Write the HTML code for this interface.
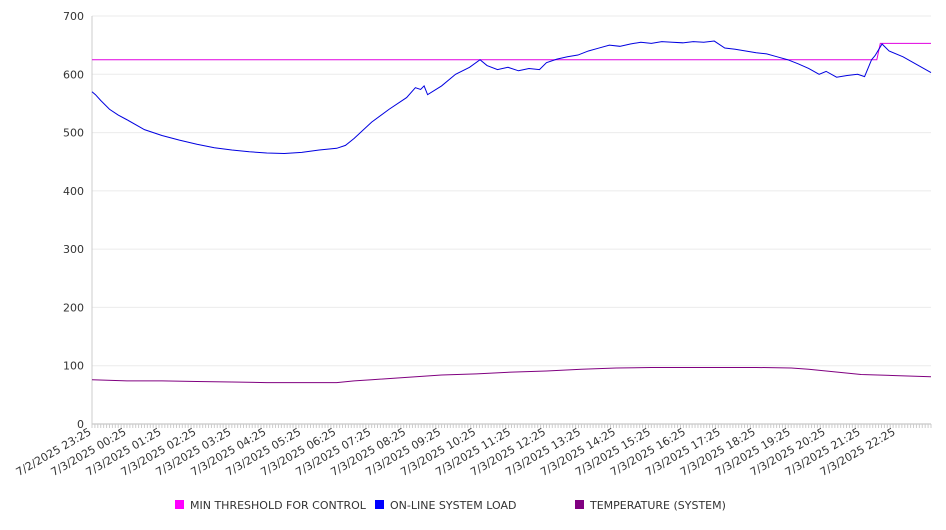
<!DOCTYPE html>
<html><head><meta charset="utf-8"><style>
body{margin:0;background:#fff;font-family:"DejaVu Sans","Liberation Sans",sans-serif}
svg text{font-family:"DejaVu Sans","Liberation Sans",sans-serif;font-size:11px;fill:#333}
</style></head><body>
<svg id="chart" width="946" height="526" xmlns="http://www.w3.org/2000/svg">
<g id="grid"></g>
<g id="yaxis"></g>
<g id="xaxis"></g>
<g id="series"></g>
<g id="legend"></g>
</svg>
<script>
const xLabels=["7/2/2025 23:25","7/3/2025 00:25","7/3/2025 01:25","7/3/2025 02:25","7/3/2025 03:25","7/3/2025 04:25","7/3/2025 05:25","7/3/2025 06:25","7/3/2025 07:25","7/3/2025 08:25","7/3/2025 09:25","7/3/2025 10:25","7/3/2025 11:25","7/3/2025 12:25","7/3/2025 13:25","7/3/2025 14:25","7/3/2025 15:25","7/3/2025 16:25","7/3/2025 17:25","7/3/2025 18:25","7/3/2025 19:25","7/3/2025 20:25","7/3/2025 21:25","7/3/2025 22:25"];
const yTicks=[0,100,200,300,400,500,600,700];
const loadHours=[0,0.1,0.25,0.5,0.75,1,1.5,2,2.5,3,3.5,4,4.5,5,5.5,6,6.5,7,7.25,7.5,8,8.5,9,9.25,9.4,9.5,9.6,10,10.4,10.8,11.1,11.3,11.6,11.9,12.2,12.5,12.8,13,13.3,13.6,13.9,14.2,14.5,14.8,15.1,15.4,15.7,16,16.3,16.6,16.9,17.2,17.5,17.8,18.1,18.4,18.7,19,19.3,19.6,19.9,20.2,20.5,20.8,21,21.3,21.6,21.9,22.1,22.3,22.4,22.6,22.8,23.2,24];
const loadValues=[570,565,555,540,530,522,505,495,487,480,474,470,467,465,464,466,470,473,478,490,518,540,560,577,574,580,565,580,600,612,625,615,608,612,606,610,608,620,626,630,633,640,645,650,648,652,655,653,656,655,654,656,655,657,645,643,640,637,635,630,625,618,610,600,605,595,598,600,596,625,632,652,640,630,603];
const threshHours=[0,22.45,22.55,24];
const threshValues=[625,625,653,653];
const tempHours=[0,1,2,3,4,5,6,7,7.5,8,9,10,11,12,13,14,15,16,17,18,19,20,20.5,21,21.5,22,23,24];
const tempValues=[76,74,74,73,72,71,71,71,74,76,80,84,86,89,91,94,96,97,97,97,97,96,94,91,88,85,83,81];
const X0=92,X1=931,Y0=424,Y1=16;
const xs=h=>X0+(X1-X0)*h/24, ys=v=>Y0-(Y0-Y1)*v/700;
const NS="http://www.w3.org/2000/svg";
function mk(t,a,p){const e=document.createElementNS(NS,t);for(const k in a)e.setAttribute(k,a[k]);p.appendChild(e);return e;}
const grid=document.getElementById('grid'),ya=document.getElementById('yaxis'),xa=document.getElementById('xaxis'),se=document.getElementById('series'),lg=document.getElementById('legend');
yTicks.forEach(v=>{
 const l=mk('line',{x1:X0,x2:X1,y1:ys(v),y2:ys(v),stroke:v===0?'#bbb':'#ebebeb','stroke-width':1},grid);
 
 
 const t=mk('text',{x:84,y:ys(v)+4,'text-anchor':'end'},ya);t.textContent=v;
 
 
});
mk('line',{x1:X0,x2:X0,y1:Y1,y2:Y0,stroke:'#ccc'},ya);
for(let i=0;i<=24*12;i++){const x=xs(i/12);mk('line',{x1:x,x2:x,y1:Y0,y2:Y0+4,stroke:'#ccc'},xa);}
xLabels.forEach((s,i)=>{
 const x=xs(i);
 const t=mk('text',{x:x,y:Y0+10,'text-anchor':'end',transform:`rotate(-30 ${x} ${Y0+10})`},xa);t.textContent=s;
 
 
});
function line(hs,vs,col,name){
 const p=mk('polyline',{points:hs.map((h,i)=>xs(h)+','+ys(vs[i])).join(' '),fill:'none',stroke:col,'stroke-width':1},se);
 
 
}
line(tempHours,tempValues,'#800080','temperature-line');
line(threshHours,threshValues,'#e000e0','min-threshold-line');
line(loadHours,loadValues,'#0000e0','system-load-line');
[['MIN THRESHOLD FOR CONTROL','#ff00ff',175],['ON-LINE SYSTEM LOAD','#0000ff',375],['TEMPERATURE (SYSTEM)','#800080',575]].forEach(([n,c,x])=>{
 const g=mk('g',{},lg);
 
 
 mk('rect',{x:x,y:500,width:9,height:9,fill:c},g);
 const t=mk('text',{x:x+15,y:509},g);t.textContent=n;
});
</script>
</body></html>
